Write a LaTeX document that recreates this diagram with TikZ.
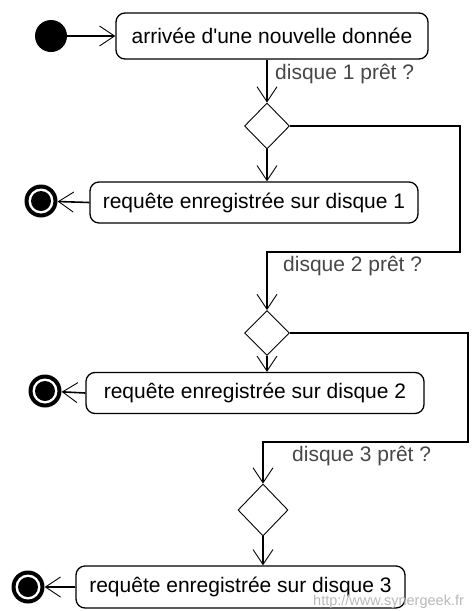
\documentclass[tikz,border=0pt]{standalone}
\usepackage{fontspec}
\setmainfont{Liberation Sans}
\usetikzlibrary{shapes.geometric,arrows.meta}
\tikzset{
  x=1pt,y=-1pt,
  act/.style={draw=black, line width=1.3pt, rounded corners=9pt, inner sep=0pt, font=\fontsize{21}{24}\selectfont, text=black},
  dec/.style={draw=black, line width=0.9pt, diamond, inner sep=0pt},
  startnode/.style={circle, fill=black, inner sep=0pt, minimum size=32pt},
  endnode/.style={circle, fill=black, inner sep=0pt, minimum size=33pt,
    path picture={\fill[white] (path picture bounding box.center) circle (12.5pt);
                  \fill[black] (path picture bounding box.center) circle (10pt);}},
  flow/.style={line width=1.6pt, -{Straight Barb[length=15pt,width=20pt,line width=0.9pt]}},
  lbl/.style={font=\fontsize{21}{24}\selectfont, text=black!72, inner sep=0pt},
}
\begin{document}
\begin{tikzpicture}
\useasboundingbox (0,0) rectangle (472,611);
\node[startnode] (s) at (51,36) {};
\node[act, minimum width=312pt, minimum height=46pt] (a1) at (272,36) {arrivée d\textquotesingle une nouvelle donnée};
\node[dec, minimum width=45pt, minimum height=46pt] (d1) at (267,126) {};
\node[act, minimum width=328pt, minimum height=41pt] (a2) at (254,202.5) {requête enregistrée sur disque 1};
\node[endnode] (f1) at (41,201) {};
\node[dec, minimum width=45pt, minimum height=45pt] (d2) at (267,333) {};
\node[act, minimum width=338pt, minimum height=41pt] (a3) at (255,393) {requête enregistrée sur disque 2};
\node[endnode] (f2) at (45,391) {};
\node[dec, minimum width=50pt, minimum height=52pt] (d3) at (263,510) {};
\node[act, minimum width=329pt, minimum height=42pt] (a4) at (240.5,587) {requête enregistrée sur disque 3};
\node[endnode] (f3) at (28,587) {};
\coordinate (c1) at (460,252);
\coordinate (c2) at (468,442);

\draw[flow] (s) -- (a1);
\draw[flow] (d1 |- a1.south) -- (d1.north);
\node[lbl, anchor=west] (l1) at (275,74) {disque 1 prêt ?};
\draw[flow] (d1.south) -- (d1 |- a2.north);
\draw[flow] (a2.west) -- (f1);
\draw[flow] (d1.east) -| (c1) -| (d2.north);
\node[lbl, anchor=west] (l2) at (283,266) {disque 2 prêt ?};
\draw[flow] (d2.south) -- (d2 |- a3.north);
\draw[flow] (a3.west) -- (f2);
\draw[flow] (d2.east) -| (c2) -| (d3.north);
\node[lbl, anchor=west] (l3) at (292,456) {disque 3 prêt ?};
\draw[flow] (d3.south) -- (d3 |- a4.north);
\draw[flow] (a4.west) -- (f3);
\node[font=\fontsize{14.5}{16}\selectfont, text=black!28, anchor=base west, inner sep=0pt] (w) at (313,605) {http://www.synergeek.fr};
\end{tikzpicture}
\end{document}
